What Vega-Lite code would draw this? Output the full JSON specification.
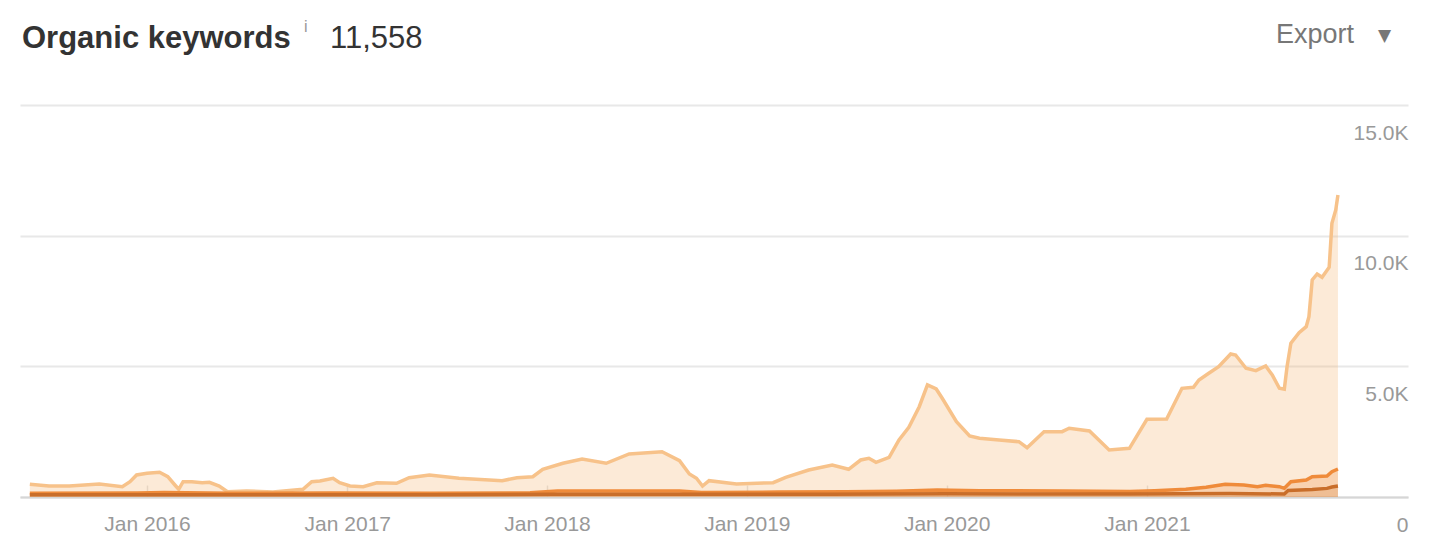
{
  "$schema": "https://vega.github.io/schema/vega-lite/v6.json",
  "width": 1388,
  "height": 392,
  "autosize": {"type": "none"},
  "padding": {"left": 20, "top": 105, "right": 38, "bottom": 57},
  "background": "white",
  "config": {
    "view": {"stroke": null},
    "font": "Liberation Sans"
  },
  "layer": [
    {
      "data": {"values": [
        {"date":"2015-06-01","series":"11+","value":486},{"date":"2015-07-06","series":"11+","value":421},{"date":"2015-08-12","series":"11+","value":421},{"date":"2015-10-06","series":"11+","value":497},{"date":"2015-11-17","series":"11+","value":394},{"date":"2015-12-01","series":"11+","value":585},{"date":"2015-12-13","series":"11+","value":842},{"date":"2016-01-01","series":"11+","value":907},{"date":"2016-01-24","series":"11+","value":945},{"date":"2016-02-08","series":"11+","value":777},{"date":"2016-02-21","series":"11+","value":459},{"date":"2016-02-28","series":"11+","value":295},{"date":"2016-03-07","series":"11+","value":585},{"date":"2016-03-23","series":"11+","value":585},{"date":"2016-04-11","series":"11+","value":547},{"date":"2016-04-24","series":"11+","value":563},{"date":"2016-05-12","series":"11+","value":421},{"date":"2016-05-27","series":"11+","value":203},{"date":"2016-07-01","series":"11+","value":230},{"date":"2016-08-18","series":"11+","value":191},{"date":"2016-10-12","series":"11+","value":295},{"date":"2016-10-28","series":"11+","value":585},{"date":"2016-11-12","series":"11+","value":612},{"date":"2016-12-06","series":"11+","value":716},{"date":"2016-12-18","series":"11+","value":547},{"date":"2017-01-06","series":"11+","value":421},{"date":"2017-01-30","series":"11+","value":394},{"date":"2017-02-24","series":"11+","value":547},{"date":"2017-04-01","series":"11+","value":524},{"date":"2017-04-24","series":"11+","value":739},{"date":"2017-05-31","series":"11+","value":842},{"date":"2017-07-24","series":"11+","value":716},{"date":"2017-10-11","series":"11+","value":624},{"date":"2017-11-07","series":"11+","value":739},{"date":"2017-12-06","series":"11+","value":777},{"date":"2017-12-24","series":"11+","value":1060},{"date":"2018-01-30","series":"11+","value":1290},{"date":"2018-03-06","series":"11+","value":1454},{"date":"2018-04-19","series":"11+","value":1290},{"date":"2018-05-31","series":"11+","value":1646},{"date":"2018-07-30","series":"11+","value":1734},{"date":"2018-08-31","series":"11+","value":1389},{"date":"2018-09-18","series":"11+","value":880},{"date":"2018-10-01","series":"11+","value":716},{"date":"2018-10-12","series":"11+","value":421},{"date":"2018-10-24","series":"11+","value":624},{"date":"2018-12-13","series":"11+","value":497},{"date":"2019-02-18","series":"11+","value":547},{"date":"2019-03-13","series":"11+","value":754},{"date":"2019-04-24","series":"11+","value":1033},{"date":"2019-06-06","series":"11+","value":1225},{"date":"2019-07-06","series":"11+","value":1060},{"date":"2019-07-28","series":"11+","value":1416},{"date":"2019-08-12","series":"11+","value":1481},{"date":"2019-08-25","series":"11+","value":1328},{"date":"2019-09-18","series":"11+","value":1519},{"date":"2019-10-06","series":"11+","value":2181},{"date":"2019-10-24","series":"11+","value":2667},{"date":"2019-11-12","series":"11+","value":3456},{"date":"2019-11-27","series":"11+","value":4286},{"date":"2019-12-13","series":"11+","value":4133},{"date":"2019-12-24","series":"11+","value":3777},{"date":"2020-01-19","series":"11+","value":2882},{"date":"2020-02-12","series":"11+","value":2334},{"date":"2020-03-01","series":"11+","value":2246},{"date":"2020-04-06","series":"11+","value":2181},{"date":"2020-05-12","series":"11+","value":2116},{"date":"2020-05-27","series":"11+","value":1887},{"date":"2020-06-27","series":"11+","value":2499},{"date":"2020-07-30","series":"11+","value":2499},{"date":"2020-08-12","series":"11+","value":2629},{"date":"2020-09-18","series":"11+","value":2526},{"date":"2020-10-24","series":"11+","value":1799},{"date":"2020-11-30","series":"11+","value":1864},{"date":"2021-01-01","series":"11+","value":2974},{"date":"2021-02-06","series":"11+","value":2985},{"date":"2021-03-06","series":"11+","value":4160},{"date":"2021-03-27","series":"11+","value":4198},{"date":"2021-04-06","series":"11+","value":4478},{"date":"2021-04-24","series":"11+","value":4734},{"date":"2021-05-12","series":"11+","value":4987},{"date":"2021-06-03","series":"11+","value":5473},{"date":"2021-06-12","series":"11+","value":5434},{"date":"2021-07-01","series":"11+","value":4925},{"date":"2021-07-19","series":"11+","value":4833},{"date":"2021-08-06","series":"11+","value":5013},{"date":"2021-08-18","series":"11+","value":4669},{"date":"2021-08-31","series":"11+","value":4160},{"date":"2021-09-09","series":"11+","value":4122},{"date":"2021-09-14","series":"11+","value":4987},{"date":"2021-09-21","series":"11+","value":5882},{"date":"2021-10-06","series":"11+","value":6288},{"date":"2021-10-19","series":"11+","value":6517},{"date":"2021-10-24","series":"11+","value":6900},{"date":"2021-10-30","series":"11+","value":8305},{"date":"2021-11-08","series":"11+","value":8534},{"date":"2021-11-17","series":"11+","value":8408},{"date":"2021-11-30","series":"11+","value":8791},{"date":"2021-12-05","series":"11+","value":10475},{"date":"2021-12-12","series":"11+","value":10983},{"date":"2021-12-16","series":"11+","value":11558},
        {"date":"2015-06-01","series":"4-10","value":140},{"date":"2015-12-15","series":"4-10","value":150},{"date":"2016-02-01","series":"4-10","value":170},{"date":"2016-06-01","series":"4-10","value":140},{"date":"2016-12-01","series":"4-10","value":150},{"date":"2017-06-01","series":"4-10","value":140},{"date":"2017-12-01","series":"4-10","value":160},{"date":"2018-01-20","series":"4-10","value":230},{"date":"2018-08-31","series":"4-10","value":230},{"date":"2018-10-10","series":"4-10","value":170},{"date":"2019-03-01","series":"4-10","value":190},{"date":"2019-07-01","series":"4-10","value":200},{"date":"2019-10-01","series":"4-10","value":220},{"date":"2019-12-15","series":"4-10","value":270},{"date":"2020-03-01","series":"4-10","value":240},{"date":"2020-08-01","series":"4-10","value":230},{"date":"2020-12-01","series":"4-10","value":210},{"date":"2021-01-15","series":"4-10","value":240},{"date":"2021-03-13","series":"4-10","value":295},{"date":"2021-04-19","series":"4-10","value":371},{"date":"2021-05-24","series":"4-10","value":486},{"date":"2021-06-27","series":"4-10","value":459},{"date":"2021-07-22","series":"4-10","value":394},{"date":"2021-08-06","series":"4-10","value":448},{"date":"2021-08-31","series":"4-10","value":394},{"date":"2021-09-09","series":"4-10","value":333},{"date":"2021-09-21","series":"4-10","value":585},{"date":"2021-10-19","series":"4-10","value":651},{"date":"2021-10-30","series":"4-10","value":777},{"date":"2021-11-26","series":"4-10","value":804},{"date":"2021-12-05","series":"4-10","value":968},{"date":"2021-12-16","series":"4-10","value":1072},
        {"date":"2015-06-01","series":"1-3","value":85},{"date":"2016-06-01","series":"1-3","value":85},{"date":"2017-06-01","series":"1-3","value":90},{"date":"2018-01-15","series":"1-3","value":105},{"date":"2018-09-01","series":"1-3","value":105},{"date":"2019-06-01","series":"1-3","value":110},{"date":"2020-01-01","series":"1-3","value":120},{"date":"2020-12-01","series":"1-3","value":115},{"date":"2021-03-01","series":"1-3","value":125},{"date":"2021-06-01","series":"1-3","value":135},{"date":"2021-09-09","series":"1-3","value":115},{"date":"2021-09-16","series":"1-3","value":250},{"date":"2021-10-30","series":"1-3","value":290},{"date":"2021-11-26","series":"1-3","value":330},{"date":"2021-12-05","series":"1-3","value":380},{"date":"2021-12-16","series":"1-3","value":421}
      ]},
      "encoding": {
        "x": {
          "field": "date", "type": "temporal",
          "scale": {"type": "utc", "domain": [{"year": 2015, "month": 5, "date": 14, "utc": true}, {"year": 2022, "month": 4, "date": 23, "utc": true}], "nice": false},
          "axis": {
            "title": null,
            "values": [{"year": 2016, "month": 1, "date": 1, "utc": true}, {"year": 2017, "month": 1, "date": 1, "utc": true}, {"year": 2018, "month": 1, "date": 1, "utc": true}, {"year": 2019, "month": 1, "date": 1, "utc": true}, {"year": 2020, "month": 1, "date": 1, "utc": true}, {"year": 2021, "month": 1, "date": 1, "utc": true}],
            "labelExpr": "utcFormat(datum.value, '%b %Y')",
            "grid": false,
            "domain": true,
            "domainColor": "#d6d6d6",
            "domainWidth": 2,
            "ticks": true,
            "tickSize": -12,
            "tickColor": "#e2e2e2",
            "tickWidth": 1.5,
            "labelFontSize": 21,
            "labelColor": "#999999",
            "labelBaseline": "alphabetic",
            "labelPadding": 45,
            "labelFlush": false,
            "labelOverlap": false
          }
        },
        "y": {
          "field": "value", "type": "quantitative",
          "scale": {"domain": [0, 15000], "nice": false, "zero": true},
          "axis": {
            "title": null,
            "orient": "right",
            "values": [0, 5000, 10000, 15000],
            "labelExpr": "datum.value == 0 ? '0' : format(datum.value / 1000, '.1f') + 'K'",
            "grid": true,
            "gridColor": "#e8e8e8",
            "gridWidth": 2,
            "domain": false,
            "ticks": false,
            "labelAlign": "right",
            "labelBaseline": "alphabetic",
            "labelPadding": 0,
            "labelOffset": 34,
            "labelFontSize": 21,
            "labelColor": "#999999",
            "labelOverlap": false
          }
        }
      },
      "layer": [
        {"transform": [{"filter": "datum.series == '11+'"}], "mark": {"type": "area", "color": "#f5b570", "fillOpacity": 0.28}},
        {"transform": [{"filter": "datum.series == '11+'"}], "mark": {"type": "line", "color": "#f7c28a", "strokeWidth": 3.5}},
        {"transform": [{"filter": "datum.series == '4-10'"}], "mark": {"type": "area", "color": "#ef8b3a", "fillOpacity": 0.25}},
        {"transform": [{"filter": "datum.series == '4-10'"}], "mark": {"type": "line", "color": "#ef8b3a", "strokeWidth": 3.5}},
        {"transform": [{"filter": "datum.series == '1-3'"}], "mark": {"type": "area", "color": "#c96e2a", "fillOpacity": 0.2}},
        {"transform": [{"filter": "datum.series == '1-3'"}], "mark": {"type": "line", "color": "#c96e2a", "strokeWidth": 3.5}}
      ]
    },
    {
      "data": {"values": [{"label": "Organic keywords"}]},
      "mark": {"type": "text", "align": "left", "baseline": "alphabetic", "fontSize": 31, "fontWeight": "bold", "color": "#333333", "font": "Liberation Sans"},
      "encoding": {"text": {"field": "label"}, "x": {"value": 2}, "y": {"value": -57}}
    },
    {
      "data": {"values": [{"label": "i"}]},
      "mark": {"type": "text", "align": "left", "baseline": "alphabetic", "fontSize": 16, "color": "#999999", "font": "Liberation Sans"},
      "encoding": {"text": {"field": "label"}, "x": {"value": 284}, "y": {"value": -73}}
    },
    {
      "data": {"values": [{"label": "11,558"}]},
      "mark": {"type": "text", "align": "left", "baseline": "alphabetic", "fontSize": 31, "color": "#333333", "font": "Liberation Sans"},
      "encoding": {"text": {"field": "label"}, "x": {"value": 310}, "y": {"value": -57}}
    },
    {
      "data": {"values": [{"label": "Export"}]},
      "mark": {"type": "text", "align": "left", "baseline": "alphabetic", "fontSize": 27, "color": "#777777", "font": "Liberation Sans"},
      "encoding": {"text": {"field": "label"}, "x": {"value": 1256}, "y": {"value": -62}}
    },
    {
      "data": {"values": [{"label": "▼"}]},
      "mark": {"type": "text", "align": "center", "baseline": "middle", "fontSize": 17, "color": "#777777", "font": "DejaVu Sans"},
      "encoding": {"text": {"field": "label"}, "x": {"value": 1364.5}, "y": {"value": -69}}
    }
  ]
}
